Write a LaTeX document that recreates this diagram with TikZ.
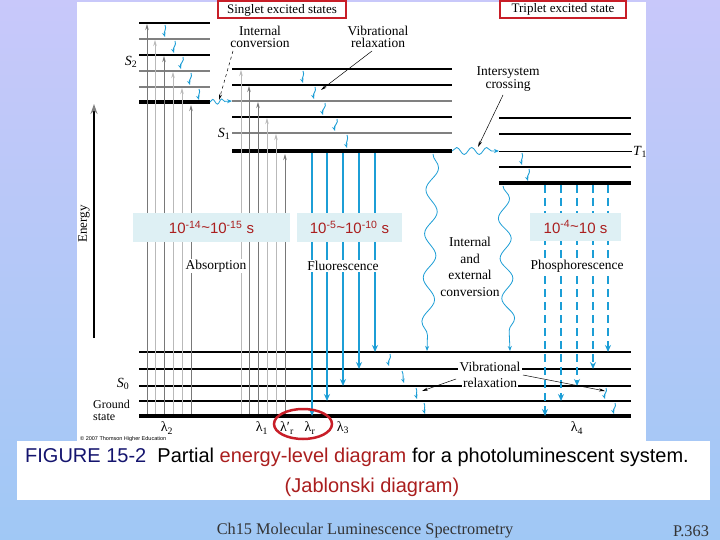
\documentclass[tikz,border=0pt]{standalone}
\usepackage{fontspec}
\setmainfont{Liberation Serif}
\newfontfamily\sansf{Liberation Sans}
\usetikzlibrary{decorations.pathmorphing,arrows.meta}
\definecolor{flu}{RGB}{28,158,214}
\definecolor{dred}{RGB}{170,30,30}
\definecolor{navy}{RGB}{20,20,110}
\definecolor{boxred}{RGB}{200,30,40}
\definecolor{tbox}{RGB}{222,240,244}
\definecolor{dgray}{RGB}{120,120,120}
\definecolor{lgray}{RGB}{185,185,185}
\definecolor{bgtop}{RGB}{200,200,250}
\definecolor{bgbot}{RGB}{160,200,245}
\begin{document}
\begin{tikzpicture}[x=1pt,y=-1pt,
  lvl/.style={line width=1.1pt},
  glvl/.style={line width=1.1pt,gray},
  thk/.style={line width=4pt},
  absd/.style={line width=0.8pt,dgray,-{Stealth[length=6pt,width=3.5pt]}},
  absl/.style={line width=0.8pt,lgray,-{Stealth[length=6pt,width=3.5pt]}},
  fluarr/.style={line width=2.6pt,flu,-{Stealth[length=7pt,width=6pt]}},
  phos/.style={line width=2.6pt,flu,dash pattern=on 8pt off 5pt,-{Stealth[length=7pt,width=6pt]}},
  vib/.style={line width=0.9pt,flu,-{Stealth[length=4.5pt,width=3.5pt]}},
  wavy/.style={line width=0.8pt,flu,-{Stealth[length=5pt,width=4pt]},decorate},
  lab/.style={font=\fontsize{13.5}{12.5}\selectfont,align=center,inner sep=1pt},
  ptr/.style={line width=0.5pt,black,-{Stealth[length=6pt,width=3pt]}},
  tbx/.style={fill=tbox,draw=none,minimum height=29pt,inner sep=0pt,font=\sansf\fontsize{15}{16}\selectfont,text=dred},
  hdr/.style={draw=boxred,line width=2pt,font=\fontsize{13}{13}\selectfont,inner sep=2pt,minimum height=17pt},
  sym/.style={font=\fontsize{14}{14}\selectfont}
]
\useasboundingbox (0,0) rectangle (720,540);
\shade[top color=bgtop,bottom color=bgbot] (0,0) rectangle (720,540);
\fill[white] (77,2) rectangle (646,441);

% ---- levels ----
% S2
\draw[lvl] (139,23) -- (210,23);
\draw[glvl] (139,39) -- (210,39);
\draw[lvl] (139,55) -- (210,55);
\draw[glvl] (139,71) -- (210,71);
\draw[glvl] (139,87) -- (210,87);
\draw[thk] (139,102) -- (210,102);
% S1
\draw[lvl] (232,69) -- (452,69);
\draw[lvl] (232,85) -- (452,85);
\draw[glvl] (232,101) -- (452,101);
\draw[lvl] (232,117) -- (452,117);
\draw[glvl] (232,133) -- (452,133);
\draw[thk] (232,151) -- (452,151);
% T1
\draw[lvl] (499,118) -- (631,118);
\draw[lvl] (499,134) -- (631,134);
\draw[line width=0.8pt] (499,151) -- (632,151);
\draw[lvl] (499,167) -- (631,167);
\draw[thk] (499,183) -- (631,183);
% S0
\draw[lvl] (139,352) -- (631,352);
\draw[line width=1.6pt] (139,369) -- (631,369);
\draw[lvl] (139,386) -- (631,386);
\draw[lvl] (139,401) -- (631,401);
\draw[thk] (139,416) -- (631,416);

% ---- energy axis ----
\draw[line width=2pt,-{Stealth[length=10pt,width=7pt,color=gray]}] (94,338) -- (94,104);
\node[rotate=90,font=\fontsize{13}{13}\selectfont] (energy) at (84,224) {Energy};

% ---- absorption ----
\draw[absd] (147,414) -- (147,24);
\draw[absl] (155,414) -- (155,40);
\draw[absd] (164,414) -- (164,56);
\draw[absl] (173,414) -- (173,72);
\draw[absl] (182,414) -- (182,88);
\draw[absd] (191,414) -- (191,105);
\draw[absl] (241,414) -- (241,70);
\draw[absd] (249,414) -- (249,86);
\draw[absd] (258,414) -- (258,102);
\draw[absl] (267,414) -- (267,118);
\draw[absl] (276,414) -- (276,134);
\draw[absd] (285,414) -- (285,154);

% ---- fluorescence ----
\draw[fluarr] (312,153) -- (312,416);
\draw[fluarr] (327,153) -- (327,401);
\draw[fluarr] (343,153) -- (343,386);
\draw[fluarr] (359,153) -- (359,369);
\draw[fluarr] (375,153) -- (375,352);

% ---- phosphorescence ----
\draw[phos] (545,185) -- (545,416);
\draw[phos] (561,185) -- (561,401);
\draw[phos] (577,185) -- (577,386);
\draw[phos] (593,185) -- (593,369);
\draw[phos] (608,185) -- (608,352);

% ---- vibrational relaxation small arrows ----
\foreach \xa/\ya/\xb/\yb in {165/25/165/37, 175/41/174/53, 183/57/181/69, 191/73/190/85, 199/89/199/100,
  303/71/303/83, 315/87/314/99, 325/103/323/115, 337/119/335/131, 347/135/347/148,
  522/153/522/165, 529/169/528/181,
  390/354/389/366, 402/371/404/383, 416/388/417/399, 424/403/425/414,
  606/388/605/399, 615/403/614/414}
  \draw[vib] (\xa,\ya) .. controls (\xa+2,\ya+4) and (\xb-1.5,\yb-5) .. (\xb,\yb);

% ---- wavy transitions ----
\draw[wavy,decoration={snake,amplitude=2.5pt,segment length=9pt,post length=5pt}] (210,102) -- (232,101);
\draw[wavy,decoration={snake,amplitude=3.5pt,segment length=15pt,post length=6pt}] (452,151) -- (499,151);
\draw[wavy,decoration={snake,amplitude=6pt,segment length=44pt,post length=6pt}] (433,154) -- (427,351);
\draw[wavy,decoration={snake,amplitude=6pt,segment length=40pt,post length=6pt}] (503,186) -- (510,351);

% ---- headers ----
\node[hdr,minimum width=128pt] (singlet) at (282,10) {Singlet excited states};
\node[hdr,minimum width=126pt] (triplet) at (563,9.5) {Triplet excited state};

% ---- state labels ----
\node[sym] (s2) at (131,62) {\textit{S}\textsubscript{2}};
\node[sym] (s1) at (224,134) {\textit{S}\textsubscript{1}};
\node[sym] (t1) at (640,152) {\textit{T}\textsubscript{1}};
\node[sym] (s0) at (123,384) {\textit{S}\textsubscript{0}};
\node[font=\fontsize{12}{12}\selectfont,anchor=base west,inner sep=0pt] (ground) at (93,408) {Ground};
\node[font=\fontsize{12}{12}\selectfont,anchor=base west,inner sep=0pt] (gstate) at (93,420) {state};

% ---- process labels ----
\node[lab] (ic) at (260,37) {Internal\\conversion};
\coordinate (icend) at (219,100);
\draw[ptr,dashed] (233,51) -- (icend);
\node[lab] (vr) at (378,37) {Vibrational\\relaxation};
\coordinate (vrend) at (321,90);
\draw[ptr] (372,51) -- (vrend);
\node[lab] (isc) at (508,79) {Intersystem\\crossing};
\coordinate (iscend) at (478,147);
\draw[ptr] (503,95) -- (iscend);

\node[lab,fill=white] (absn) at (216,266) {Absorption};
\node[lab,fill=white] (fluo) at (343,266) {Fluorescence};
\node[lab,fill=white] (phosn) at (577,266) {Phosphorescence};
\node[lab,font=\fontsize{13.5}{16.5}\selectfont] (iec) at (470,267) {Internal\\and\\external\\conversion};

\node[lab,fill=white,inner sep=1.5pt] (vr2a) at (490,367) {Vibrational};
\node[lab,fill=white,inner sep=1.5pt] (vr2b) at (490,383) {relaxation};
\coordinate (vrl) at (422,391);
\coordinate (vrr) at (605,391);
\draw[ptr] (456,379) -- (vrl);
\draw[ptr] (523,375) -- (vrr);

% ---- time boxes ----
\node[tbx,minimum width=157pt] (t1box) at (211.5,227.5) {10\textsuperscript{-14}\raisebox{0.2ex}{\char"7E}10\textsuperscript{-15} s};
\node[tbx,minimum width=105pt] (t2box) at (349.5,227.5) {10\textsuperscript{-5}\raisebox{0.2ex}{\char"7E}10\textsuperscript{-10} s};
\node[tbx,minimum width=91pt,minimum height=28pt] (t3box) at (575.5,227) {10\textsuperscript{-4}\raisebox{0.2ex}{\char"7E}10 s};

% ---- wavelengths ----
\node[sym] (l2) at (167,428) {λ\textsubscript{2}};
\node[sym] (l1) at (262,428) {λ\textsubscript{1}};
\node[sym] (lrp) at (287,428) {λ′\textsubscript{r}};
\node[sym] (lr) at (310,428) {λ\textsubscript{r}};
\node[sym] (l3) at (343,428) {λ\textsubscript{3}};
\node[sym] (l4) at (577,428) {λ\textsubscript{4}};
\draw[boxred,line width=2.5pt] (303,424) ellipse [x radius=29pt, y radius=15pt];

\node[anchor=west,font=\sansf\fontsize{5.5}{6}\selectfont,inner sep=0pt] (copy) at (80,439) {© 2007 Thomson Higher Education};

% ---- caption ----
\fill[white] (17,441) rectangle (710,500);
\node[anchor=west,font=\sansf\fontsize{20}{22}\selectfont,inner sep=0pt] (cap1) at (25,457)
  {\textcolor{navy}{FIGURE 15-2}\ \ Partial \textcolor{dred}{energy-level diagram} for a photoluminescent system.};
\node[font=\sansf\fontsize{20}{22}\selectfont,text=dred,inner sep=0pt] (cap2) at (372,487) {(Jablonski diagram)};
\node[font=\fontsize{16.3}{17}\selectfont,text=black!80,inner sep=0pt] (foot) at (365,531) {Ch15 Molecular Luminescence Spectrometry};
\node[font=\fontsize{16.3}{17}\selectfont,text=black!80,inner sep=0pt] (page) at (691,531) {P.363};
\end{tikzpicture}
\end{document}
